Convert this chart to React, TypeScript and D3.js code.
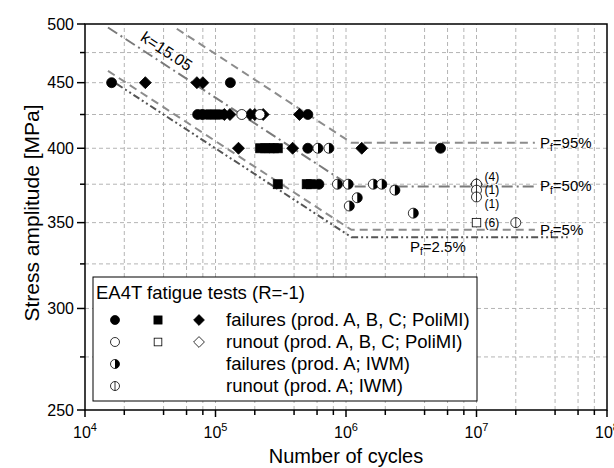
import React from 'react';
import * as d3 from 'd3';

// failures, PoliMI (prod. A, B, C): [cycles, stress amplitude]
const failCircle = [[1.6e4, 450], [1.3e5, 450], [7.3e4, 425], [7.9e4, 425], [5.1e5, 425], [5.1e5, 400], [5.3e6, 400], [6.2e5, 375]];
const failSquare = [[8.5e4, 425], [9.2e4, 425], [1.0e5, 425], [1.08e5, 425], [2.2e5, 400], [2.4e5, 400], [2.6e5, 400], [2.8e5, 400], [3.0e5, 400], [3.0e5, 375], [5.0e5, 375], [5.4e5, 375]];
const failDiamond = [[2.9e4, 450], [7.2e4, 450], [8.0e4, 450], [1.17e5, 425], [1.29e5, 425], [1.84e5, 425], [2.0e5, 425], [2.32e5, 425], [4.4e5, 425], [1.5e5, 400], [3.9e5, 400], [1.32e6, 400]];
// runouts, PoliMI
const runCircle = [[1.59e5, 425], [2.19e5, 425]];
const runSquare = [[1e7, 350]];
const runDiamond = [[1e7, 375]];
// IWM
const failIWM = [[6.1e5, 400], [7.4e5, 400], [8.6e5, 375], [1.04e6, 375], [1.62e6, 375], [1.88e6, 375], [2.37e6, 371], [1.22e6, 366], [1.06e6, 360.6], [3.28e6, 356]];
const runIWM = [[1e7, 375], [1e7, 371], [1e7, 366.5], [2e7, 350]];

// multiplicity labels next to runouts at 1e7
const countLabels = ['(4)', '(1)', '(1)', '(6)'];
const countStress = [380, 371, 362, 350];

// S-N curves (slope k, knee, endurance level per probability)
const slopeK = 15.05;
const kneeN = 1.1e6;
const pfNames = ['95%', '50%', '5%', '2.5%'];
const pfLimit = [404, 373.5, 345.5, 341];
const pfStartN = [5.05e4, 1.5e4, 1.5e4, 1.75e4];
const pfEndN = [2.8e7, 2.8e7, 2.8e7, 5e7];
const pfDash = ['8,5', '11,4,2,4', '8,5', '7,3,2,3,2,3'];
const pfColor = ['#8c8c8c', '#7a7a7a', '#8c8c8c', '#555'];

const xTicks = [1e4, 1e5, 1e6, 1e7, 1e8];
const yTicks = [250, 300, 350, 400, 450, 500];
const yMinor = [275, 325, 375, 425, 475];

const legendTitle = 'EA4T fatigue tests (R=-1)';
const legendRows = ['failures (prod. A, B, C; PoliMI)', 'runout (prod. A, B, C; PoliMI)', 'failures (prod. A; IWM)', 'runout (prod. A; IWM)'];

const W = 614, H = 468;
const m = { left: 85, right: 7, top: 24, bottom: 58 };

const x = d3.scaleLog().domain([1e4, 1e8]).range([m.left, W - m.right]);
const y = d3.scaleLog().domain([250, 500]).range([H - m.bottom, m.top]);

const xMinor: number[] = [];
[1e4, 1e5, 1e6, 1e7].forEach(d => [2, 4, 6, 8].forEach(k => xMinor.push(d * k)));

const FONT = 'Arial, "Liberation Sans", sans-serif';

function Marker({ type, cx, cy, r = 5 }: { type: string; cx: number; cy: number; r?: number }) {
  const s = 0.8;
  switch (type) {
    case 'circle':
      return <circle cx={cx} cy={cy} r={r} fill="#000" stroke="#000" strokeWidth={s} />;
    case 'ocircle':
      return <circle cx={cx} cy={cy} r={r} fill="#fff" stroke="#000" strokeWidth={s} />;
    case 'square':
      return <rect x={cx - r * 0.9} y={cy - r * 0.9} width={r * 1.8} height={r * 1.8} fill="#000" stroke="#000" strokeWidth={s} />;
    case 'osquare':
      return <rect x={cx - r * 0.85} y={cy - r * 0.85} width={r * 1.7} height={r * 1.7} fill="#fff" stroke="#000" strokeWidth={s} />;
    case 'diamond': {
      const d = r * 1.2;
      return <path d={`M${cx},${cy - d}L${cx + d},${cy}L${cx},${cy + d}L${cx - d},${cy}Z`} fill="#000" stroke="#000" strokeWidth={s} />;
    }
    case 'odiamond': {
      const d = r * 1.2;
      return <path d={`M${cx},${cy - d}L${cx + d},${cy}L${cx},${cy + d}L${cx - d},${cy}Z`} fill="#fff" stroke="#000" strokeWidth={s} />;
    }
    case 'half':
      return (
        <g>
          <circle cx={cx} cy={cy} r={r} fill="#fff" stroke="#000" strokeWidth={s} />
          <path d={`M${cx},${cy - r}A${r},${r} 0 0 1 ${cx},${cy + r}Z`} fill="#000" />
        </g>
      );
    case 'cross':
      return (
        <g>
          <circle cx={cx} cy={cy} r={r} fill="#fff" stroke="#000" strokeWidth={s} />
          <line x1={cx} y1={cy - r} x2={cx} y2={cy + r} stroke="#000" strokeWidth={s} />
        </g>
      );
    default:
      return null;
  }
}

function pfPath(i: number) {
  const b = pfLimit[i];
  const sAt = (n: number) => (n < kneeN ? b * Math.pow(n / kneeN, -1 / slopeK) : b);
  const pts: [number, number][] = [pfStartN[i], kneeN, pfEndN[i]].map(n => [x(n), y(sAt(n))]);
  return d3.line()(pts) as string;
}

export default function App() {
  const [x0, x1] = x.range();
  const [y0, y1] = y.range();

  const series: [number[][], string][] = [
    [failSquare, 'square'],
    [failCircle, 'circle'],
    [failDiamond, 'diamond'],
    [runCircle, 'ocircle'],
    [failIWM, 'half'],
    [runDiamond, 'odiamond'],
    [runIWM, 'cross'],
    [runSquare, 'osquare'],
  ];

  // k label along the 50% curve
  const kN = 4.0e4;
  const sK = (n: number) => pfLimit[1] * Math.pow(n / kneeN, -1 / slopeK);
  const ang = (Math.atan2(y(sK(kN * 2)) - y(sK(kN)), x(kN * 2) - x(kN)) * 180) / Math.PI;

  const lg = { x: 93, y: 277, w: 384, h: 124 };
  const lgCols = [115, 158, 199];
  const lgRowY = [320, 342, 364, 386];

  return (
    <svg width={W} height={H} style={{ position: 'absolute', left: 0, top: 0, fontFamily: FONT }}>
      <rect width={W} height={H} fill="#fff" />
      {/* grid */}
      <g stroke="#b4b4b4" strokeWidth={1} strokeDasharray="4,3">
        {[...xTicks.slice(1, -1), ...xMinor].map(d => (
          <line key={'gx' + d} x1={x(d)} x2={x(d)} y1={y0} y2={y1} />
        ))}
        {[...yTicks.slice(1, -1), ...yMinor].map(d => (
          <line key={'gy' + d} x1={x0} x2={x1} y1={y(d)} y2={y(d)} />
        ))}
      </g>

      {/* S-N curves */}
      {pfNames.map((p, i) => (
        <path key={p} d={pfPath(i)} fill="none" stroke={pfColor[i]} strokeWidth={2} strokeDasharray={pfDash[i]} />
      ))}
      <text
        transform={`translate(${x(kN)},${y(sK(kN)) - 8}) rotate(${ang})`}
        fontSize={16}
        textAnchor="middle"
      >
        k=15.05
      </text>

      {/* P_f labels */}
      {pfNames.map((p, i) => {
        const lx = i === 3 ? 410 : 540;
        const ly = i === 3 ? y(pfLimit[i]) + 15 : y(pfLimit[i]) + 5;
        return (
          <text key={'pl' + p} x={lx} y={ly} fontSize={15}>
            P<tspan fontSize={10} dy={3}>f</tspan>
            <tspan dy={-3}>={p}</tspan>
          </text>
        );
      })}

      {/* data */}
      {series.map(([data, type]) =>
        data.map((d, j) => <Marker key={type + j} type={type} cx={x(d[0])} cy={y(d[1])} />)
      )}

      {countLabels.map((t, i) => (
        <text key={'c' + i} x={x(1e7) + 8} y={y(countStress[i])} dy="0.35em" fontSize={12}>
          {t}
        </text>
      ))}

      {/* frame */}
      <rect x={x0} y={y1} width={x1 - x0} height={y0 - y1} fill="none" stroke="#000" strokeWidth={1.5} />

      {/* ticks */}
      <g stroke="#000" strokeWidth={1.5}>
        {xTicks.map(d => (
          <line key={'xt' + d} x1={x(d)} x2={x(d)} y1={y0} y2={y0 + 7} />
        ))}
        {xMinor.map(d => (
          <line key={'xm' + d} x1={x(d)} x2={x(d)} y1={y0} y2={y0 + 5} />
        ))}
        {yTicks.map(d => (
          <line key={'yt' + d} x1={x0 - 8} x2={x0} y1={y(d)} y2={y(d)} />
        ))}
        {yMinor.map(d => (
          <line key={'ym' + d} x1={x0 - 5} x2={x0} y1={y(d)} y2={y(d)} />
        ))}
      </g>
      {xTicks.map(d => (
        <text key={'xl' + d} x={x(d)} y={y0 + 28} fontSize={16} textAnchor="middle">
          10<tspan fontSize={11} dy={-7}>{Math.round(Math.log10(d))}</tspan>
        </text>
      ))}
      {yTicks.map(d => (
        <text key={'yl' + d} x={x0 - 11} y={y(d)} dy="0.35em" fontSize={16} textAnchor="end">
          {d}
        </text>
      ))}

      <text x={(x0 + x1) / 2} y={H - 5} fontSize={20} textAnchor="middle">
        Number of cycles
      </text>
      <text transform={`translate(39,${(y0 + y1) / 2 - 4}) rotate(-90)`} fontSize={21} textAnchor="middle">
        Stress amplitude [MPa]
      </text>

      {/* legend */}
      <rect x={lg.x} y={lg.y} width={lg.w} height={lg.h} fill="#fff" stroke="#000" strokeWidth={1} />
      <text x={lg.x + 3} y={lg.y + 22} fontSize={18.5}>
        {legendTitle}
      </text>
      <Marker type="circle" cx={lgCols[0]} cy={lgRowY[0]} r={4.5} />
      <Marker type="square" cx={lgCols[1]} cy={lgRowY[0]} r={4.5} />
      <Marker type="diamond" cx={lgCols[2]} cy={lgRowY[0]} r={4.5} />
      <Marker type="ocircle" cx={lgCols[0]} cy={lgRowY[1]} r={4.5} />
      <Marker type="osquare" cx={lgCols[1]} cy={lgRowY[1]} r={4.5} />
      <Marker type="odiamond" cx={lgCols[2]} cy={lgRowY[1]} r={4.5} />
      <Marker type="half" cx={lgCols[0]} cy={lgRowY[2]} r={4.5} />
      <Marker type="cross" cx={lgCols[0]} cy={lgRowY[3]} r={4.5} />
      {legendRows.map((t, i) => (
        <text key={t} x={226} y={lgRowY[i]} dy="0.35em" fontSize={18.5}>
          {t}
        </text>
      ))}
    </svg>
  );
}
